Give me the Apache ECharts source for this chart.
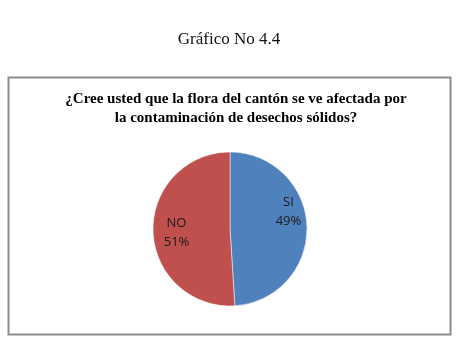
<!DOCTYPE html>
<html>
<head>
<meta charset="utf-8">
<script src="https://cdn.jsdelivr.net/npm/echarts@6/dist/echarts.min.js"></script>
<style>
  html, body { margin: 0; padding: 0; background: #fff; }
  #chart { width: 458px; height: 364px; }
</style>
</head>
<body>
<div id="chart"></div>
<script>
// respuestas y porcentajes
const categories = ['SI', 'NO'];
const values = [49, 51];
const colors = ['#4F81BD', '#C0504D'];

const chart = echarts.init(document.getElementById('chart'));

// ajuste manual de etiquetas (como en Excel)
const labelShift = [[17, -16], [-12, 2]];

chart.setOption({
  animation: false,
  title: [{
    text: 'Gráfico No 4.4',
    left: 'center',
    top: 26,
    textStyle: { fontFamily: 'Liberation Serif', fontSize: 17, fontWeight: 'normal', color: '#111' }
  }, {
    text: '¿Cree usted que la flora del cantón se ve afectada por\nla contaminación de desechos sólidos?',
    left: 231,
    textAlign: 'center',
    top: 85,
    textStyle: { fontFamily: 'Liberation Serif', fontSize: 15, fontWeight: 'bold', color: '#000', lineHeight: 19 }
  }],
  graphic: [{
    type: 'rect',
    shape: { x: 8.5, y: 77.5, width: 442, height: 257 },
    style: { fill: 'none', stroke: '#8c8c8c', lineWidth: 2 },
    z: -1
  }],
  series: [{
    type: 'pie',
    center: [230, 229],
    radius: 77,
    startAngle: 90,
    clockwise: true,
    data: categories.map((c, i) => ({
      name: c,
      value: values[i],
      itemStyle: { color: colors[i] }
    })),
    itemStyle: { borderColor: '#fff', borderWidth: 0.5 },
    label: {
      show: true,
      position: 'inside',
      formatter: '{b}\n{c}%',
      fontFamily: 'Open Sans',
      fontSize: 13,
      lineHeight: 19,
      color: '#1a1a1a'
    },
    labelLayout: function (p) {
      const s = labelShift[p.dataIndex];
      return { dx: s[0], dy: s[1] };
    },
    emphasis: { disabled: true }
  }]
});
</script>
</body>
</html>
